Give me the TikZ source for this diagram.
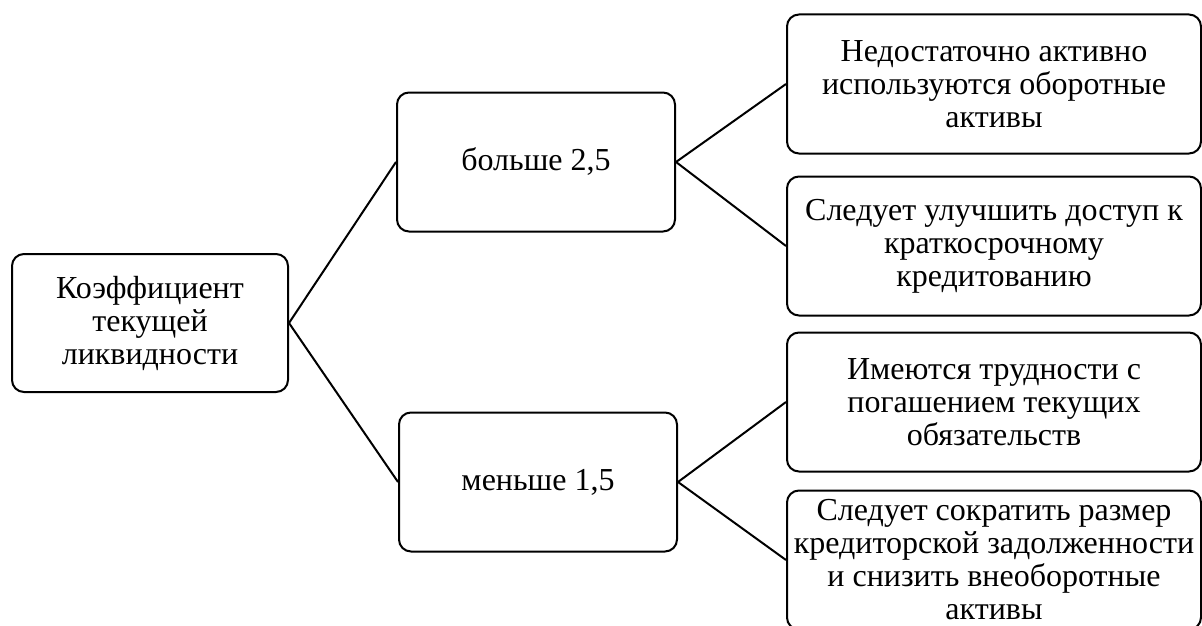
\documentclass[tikz,border=0pt]{standalone}
\usepackage{fontspec}
\setmainfont{Liberation Serif}

\begin{document}
\begin{tikzpicture}[
  x=1pt, y=-1pt,
  every node/.style={draw, rectangle, rounded corners=12pt, align=center, line width=2pt, inner sep=0pt, font=\fontsize{32}{33}\selectfont},
  ratiobox/.style={minimum width=276pt, minimum height=138pt},
  limitbox/.style={minimum width=278pt, minimum height=139pt},
  advicebox/.style={minimum width=414pt, minimum height=139pt},
  link/.style={line width=2pt}
]
\useasboundingbox (0,0) rectangle (1202,626);

% Root
\node[ratiobox] (ratio) at (150,323) {Коэффициент\\текущей\\ликвидности};

% Limits
\node[limitbox] (high) at (536,162) {больше 2,5};
\node[limitbox] (low) at (538,482) {меньше 1,5};

% Conclusions
\node[advicebox] (idle) at (994,84) {Недостаточно активно\\используются оборотные\\активы};
\node[advicebox] (credit) at (994,246) {Следует улучшить доступ к\\краткосрочному\\кредитованию};
\node[advicebox] (debts) at (994,402) {Имеются трудности с\\погашением текущих\\обязательств};
\node[advicebox] (reduce) at (994,560) {Следует сократить размер\\кредиторской задолженности\\и снизить внеоборотные\\активы};

% Links
\draw[link] (ratio.east) -- (high.west);
\draw[link] (ratio.east) -- (low.west);
\draw[link] (high.east) -- (idle.west);
\draw[link] (high.east) -- (credit.west);
\draw[link] (low.east) -- (debts.west);
\draw[link] (low.east) -- (reduce.west);

\end{tikzpicture}
\end{document}
